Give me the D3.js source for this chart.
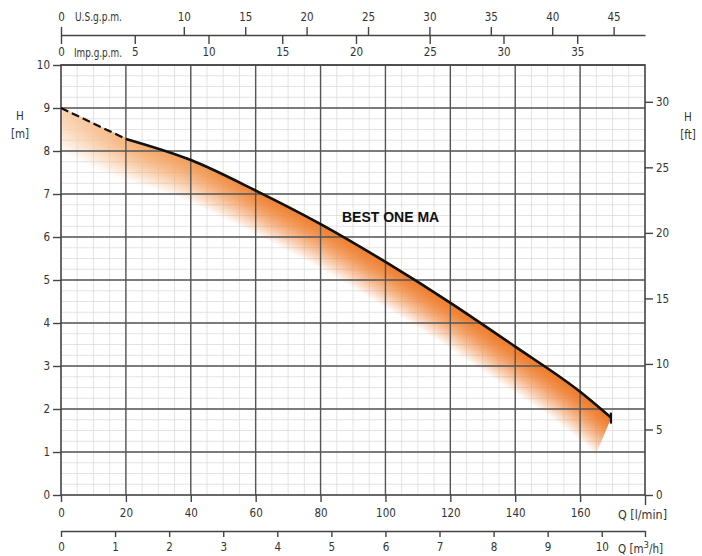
<!DOCTYPE html>
<html>
<head>
<meta charset="utf-8">
<script src="https://cdn.jsdelivr.net/npm/d3@7"></script>
<style>
  body { margin: 0; background: #fff; }
  text { font-family: "DejaVu Sans Condensed", "Liberation Sans", sans-serif; fill: #333; }
</style>
</head>
<body>
<div id="chart"></div>
<script>
// pump curve
const flowLpm = [0, 20, 40, 60, 80, 100, 120, 140, 160, 169.5];
const headM = [9.0, 8.28, 7.79, 7.08, 6.3, 5.42, 4.47, 3.45, 2.4, 1.8];

const lpmTicks = [0, 20, 40, 60, 80, 100, 120, 140, 160];
const m3hTicks = [0, 1, 2, 3, 4, 5, 6, 7, 8, 9, 10];
const usTicks = [0, 10, 15, 20, 25, 30, 35, 40, 45];
const impTicks = [0, 5, 10, 15, 20, 25, 30, 35];
const mTicks = [0, 1, 2, 3, 4, 5, 6, 7, 8, 9, 10];
const ftTicks = [0, 5, 10, 15, 20, 25, 30];
const curveName = "BEST ONE MA";

const W = 702, H = 556;
const pL = 61, pR = 645, pT = 65, pB = 495;
const maxQ = 180;
const fontSize = "11.5px";

const svg = d3.select("#chart").append("svg")
    .attr("width", W)
    .attr("height", H);

const x = d3.scaleLinear().domain([0, maxQ]).range([pL, pR]);
const y = d3.scaleLinear().domain([0, 10]).range([pB, pT]);
const yFt = d3.scaleLinear().domain([0, 10 / 0.3048]).range([pB, pT]);
const xM3h = d3.scaleLinear().domain([0, maxQ * 0.06]).range([pL, pR]);
const xUs = d3.scaleLinear().domain([0, maxQ / 3.785]).range([pL, pR]);
const xImp = d3.scaleLinear().domain([0, maxQ / 4.546]).range([pL, pR]);

const pts = flowLpm.map((q, i) => [q, headM[i]]);
const line = d3.line()
    .x((d) => x(d[0]))
    .y((d) => y(d[1]))
    .curve(d3.curveMonotoneX);

const defs = svg.append("defs");
defs.append("clipPath").attr("id", "plotClip")
    .append("rect")
    .attr("x", pL).attr("y", pT)
    .attr("width", pR - pL).attr("height", pB - pT);

const grad = defs.append("linearGradient")
    .attr("id", "orange")
    .attr("gradientUnits", "userSpaceOnUse")
    .attr("x1", pL).attr("x2", pR).attr("y1", 0).attr("y2", 0);
[[0, "#f9d3b2"], [0.15, "#f4ac70"], [0.35, "#ef8538"], [1, "#ee7b2a"]].forEach((s) => {
    grad.append("stop").attr("offset", s[0]).attr("stop-color", s[1]);
});

// minor grid (under the shading)
const minor = svg.append("g");
minor.selectAll("line.vminor")
    .data(d3.range(5, maxQ, 5))
    .enter().append("line")
    .attr("class", "vminor")
    .attr("x1", (d) => x(d)).attr("x2", (d) => x(d))
    .attr("y1", pT).attr("y2", pB)
    .attr("stroke", "#dcdcdc").attr("stroke-width", 0.8);
minor.selectAll("line.hminor")
    .data(d3.range(0.25, 10, 0.25))
    .enter().append("line")
    .attr("class", "hminor")
    .attr("x1", pL).attr("x2", pR)
    .attr("y1", (d) => y(d)).attr("y2", (d) => y(d))
    .attr("stroke", "#dcdcdc").attr("stroke-width", 0.8);

// shadow under the curve: stacked offset copies in a mask
const mask = defs.append("mask")
    .attr("id", "shadeMask")
    .attr("maskUnits", "userSpaceOnUse")
    .attr("x", 0).attr("y", 0).attr("width", W).attr("height", H);
const steps = 50;
for (let i = steps; i >= 0; i--) {
    const t = i / steps;
    mask.append("path")
        .attr("d", line(pts))
        .attr("transform", `translate(${-15 * t},${36 * t})`)
        .attr("fill", "none")
        .attr("stroke", d3.interpolateRgb("#fff", "#000")(Math.pow(t, 1.5)))
        .attr("stroke-width", 2.5);
}
svg.append("g").attr("clip-path", "url(#plotClip)")
    .append("rect")
    .attr("x", pL).attr("y", pT)
    .attr("width", pR - pL).attr("height", pB - pT)
    .attr("fill", "url(#orange)")
    .attr("mask", "url(#shadeMask)");

// major grid
const grid = svg.append("g");
grid.selectAll("line.vmajor")
    .data(lpmTicks.slice(1))
    .enter().append("line")
    .attr("class", "vmajor")
    .attr("x1", (d) => x(d)).attr("x2", (d) => x(d))
    .attr("y1", pT).attr("y2", pB)
    .attr("stroke", "#555").attr("stroke-width", 1.4);
grid.selectAll("line.hmajor")
    .data(mTicks.slice(1))
    .enter().append("line")
    .attr("class", "hmajor")
    .attr("x1", pL).attr("x2", pR)
    .attr("y1", (d) => y(d)).attr("y2", (d) => y(d))
    .attr("stroke", "#555").attr("stroke-width", 1.4);

svg.append("rect")
    .attr("x", pL).attr("y", pT)
    .attr("width", pR - pL).attr("height", pB - pT)
    .attr("fill", "none")
    .attr("stroke", "#444").attr("stroke-width", 1.6);

// curve: dashed start, solid after 20 l/min
svg.append("path")
    .attr("d", line(pts.slice(0, 2)))
    .attr("fill", "none")
    .attr("stroke", "#111")
    .attr("stroke-width", 2.2)
    .attr("stroke-dasharray", "8,4");
svg.append("path")
    .attr("d", line(pts.slice(1)))
    .attr("fill", "none")
    .attr("stroke", "#111")
    .attr("stroke-width", 2.6);
const last = pts[pts.length - 1];
svg.append("line")
    .attr("x1", x(last[0])).attr("x2", x(last[0]))
    .attr("y1", y(last[1]) - 5).attr("y2", y(last[1]) + 6)
    .attr("stroke", "#111").attr("stroke-width", 2.2);

svg.append("text")
    .attr("x", 342).attr("y", 222)
    .style("font-family", "'Liberation Sans', Arial, sans-serif")
    .style("font-weight", "bold")
    .style("font-size", "14px")
    .style("fill", "#111")
    .text(curveName);

// axes
function styleAxis(g) {
    g.selectAll("line").attr("stroke", "#444").attr("stroke-width", 1.4);
    g.selectAll("path.domain").attr("stroke", "#444").attr("stroke-width", 1.4);
    g.selectAll("text").style("font-size", fontSize).style("fill", "#333")
        .style("font-family", "'DejaVu Sans Condensed', 'Liberation Sans', sans-serif");
}

const lpmAxis = svg.append("g")
    .attr("transform", `translate(0,${pB})`)
    .call(d3.axisBottom(x).tickValues(lpmTicks.concat([maxQ])).tickSize(7).tickPadding(7)
        .tickFormat((d) => (d === maxQ ? "" : d)))
    .call((g) => g.select(".domain").remove())
    .call(styleAxis);
lpmAxis.selectAll(".tick").filter((d) => d === maxQ)
    .select("line").attr("y2", 10);

svg.append("g")
    .attr("transform", "translate(0,531)")
    .call(d3.axisBottom(xM3h).tickValues(m3hTicks.concat([maxQ * 0.06])).tickSize(6).tickPadding(6)
        .tickSizeOuter(0)
        .tickFormat((d) => (d > 10 ? "" : d)))
    .call(styleAxis);

svg.append("g")
    .attr("transform", `translate(${pL},0)`)
    .call(d3.axisLeft(y).tickValues(mTicks).tickSize(8).tickPadding(3))
    .call((g) => g.select(".domain").remove())
    .call(styleAxis);

svg.append("g")
    .attr("transform", `translate(${pR},0)`)
    .call(d3.axisRight(yFt).tickValues(ftTicks).tickSize(8).tickPadding(3))
    .call((g) => g.select(".domain").remove())
    .call(styleAxis);

svg.append("g")
    .attr("transform", "translate(0,35)")
    .call(d3.axisTop(xUs).tickValues(usTicks).tickSize(8).tickPadding(6).tickSizeOuter(0))
    .call(styleAxis);

svg.append("g")
    .attr("transform", "translate(0,35)")
    .call(d3.axisBottom(xImp).tickValues(impTicks).tickSize(9).tickPadding(4))
    .call((g) => g.select(".domain").remove())
    .call(styleAxis);

// unit labels
const unitText = (tx, ty, s, anchor, len) => {
    const t = svg.append("text")
        .attr("x", tx).attr("y", ty)
        .attr("text-anchor", anchor || "start")
        .style("font-size", fontSize)
        .text(s);
    if (len) t.attr("textLength", len).attr("lengthAdjust", "spacingAndGlyphs");
    return t;
};
unitText(75, 21, "U.S.g.p.m.", "start", 47);
unitText(74, 57, "Imp.g.p.m.", "start", 48);
unitText(618, 519, "Q [l/min]", "start", 49);
const m3 = unitText(618, 553, "Q [m");
m3.append("tspan").attr("dy", -5).style("font-size", "9.5px").text("3");
m3.append("tspan").attr("dy", 5).text("/h]");
unitText(20, 120, "H", "middle");
unitText(20, 138, "[m]", "middle");
unitText(688, 121, "H", "middle");
unitText(688, 139, "[ft]", "middle");
</script>
</body>
</html>
